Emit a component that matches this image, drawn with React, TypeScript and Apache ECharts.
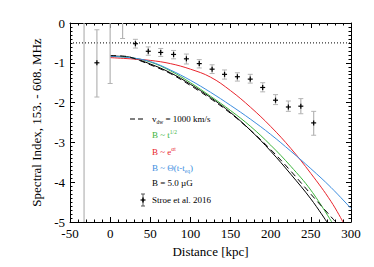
import React, { useEffect, useRef } from "react";
import * as echarts from "echarts";

// Observations (Stroe et al. 2016)
const obsX = [-32.5, -16.5, 0, 15.5, 31.5, 47.5, 63, 79, 95, 111, 127, 142.5, 158.5, 174.5, 190, 206, 222, 237.5, 253.5];
const obsY: (number | null)[] = [null, -1.0, null, null, -0.52, -0.71, -0.74, -0.79, -0.9, -1.02, -1.16, -1.29, -1.35, -1.41, -1.62, -1.94, -2.11, -2.09, -2.51];
const obsLow = [-10, -1.86, -1.52, -0.39, -0.63, -0.81, -0.84, -0.9, -1.03, -1.13, -1.27, -1.41, -1.46, -1.51, -1.73, -2.05, -2.22, -2.28, -2.82];
const obsHigh = [10, -0.17, 0.5, 0.5, -0.41, -0.6, -0.64, -0.69, -0.78, -0.92, -1.05, -1.18, -1.25, -1.29, -1.5, -1.8, -1.96, -1.9, -2.22];

// Model curves
const dashX = [0, 15, 25, 50, 75, 100, 125, 150, 175, 200, 225, 250, 281];
const dashY = [-0.82, -0.83, -0.86, -1.05, -1.27, -1.57, -1.9, -2.27, -2.7, -3.18, -3.72, -4.3, -5.0];
const greenX = [0, 25, 50, 75, 100, 125, 150, 175, 200, 225, 250, 276];
const greenY = [-0.84, -0.87, -0.98, -1.2, -1.5, -1.84, -2.2, -2.6, -3.07, -3.6, -4.2, -5.0];
const redX = [0, 25, 50, 75, 100, 125, 150, 175, 200, 225, 250, 275, 290];
const redY = [-0.87, -0.9, -0.94, -1.02, -1.16, -1.36, -1.7, -2.12, -2.6, -3.15, -3.78, -4.48, -5.0];
const blueX = [0, 25, 50, 75, 100, 125, 150, 175, 200, 225, 250, 275, 300];
const blueY = [-0.84, -0.87, -0.97, -1.18, -1.44, -1.74, -2.07, -2.42, -2.8, -3.22, -3.66, -4.13, -4.66];
const blackX = [0, 15, 25, 50, 75, 100, 125, 150, 175, 200, 225, 250, 270];
const blackY = [-0.83, -0.84, -0.86, -1.03, -1.25, -1.54, -1.87, -2.25, -2.7, -3.22, -3.8, -4.42, -5.0];

const refLineY = -0.5;
const xTicks = { min: -50, max: 300, interval: 50 };
const yTicks = { min: -5, max: 0, interval: 1 };

const FONT = "Liberation Serif";

function pairs(xs: number[], ys: number[]) {
  return xs.map((x, i) => [x, ys[i]]);
}

export default function App() {
  const ref = useRef<HTMLDivElement>(null);
  useEffect(() => {
    document.body.style.margin = "0";
    const chart = echarts.init(ref.current!, null, { renderer: "svg" });
    const axisCommon = {
      axisLine: { show: true, onZero: false, lineStyle: { color: "#000", width: 1 } },
      axisTick: { show: true, inside: true, length: 5, lineStyle: { color: "#000" } },
      minorTick: { show: true, length: 2.5, lineStyle: { color: "#000" } },
      splitLine: { show: false },
    };
    const errData = obsX.map((x, i) => [x, obsLow[i], obsHigh[i], obsY[i] == null ? NaN : obsY[i]]);
    const lineSeries = (name: string, xs: number[], ys: number[], color: string, dashed = false) => ({
      type: "line",
      name,
      data: pairs(xs, ys),
      smooth: 0.4,
      showSymbol: false,
      symbol: "none",
      clip: true,
      lineStyle: { color, width: 1, type: dashed ? [6, 4] : "solid" },
      z: 3,
    });
    const tf = (fill: string) => ({ fontFamily: FONT, fontSize: 9, fill, verticalAlign: "middle", lineHeight: 12 });
    const sf = (fill: string, va: string) => ({ fontFamily: FONT, fontSize: 5.5, fill, verticalAlign: va, lineHeight: 12 });
    chart.setOption({
      animation: false,
      textStyle: { fontFamily: FONT },
      grid: { left: 70, top: 23, width: 281, height: 199, show: false, outerBoundsMode: "none" },
      xAxis: [
        {
          type: "value",
          ...xTicks,
          position: "bottom",
          ...axisCommon,
          minorTick: { ...axisCommon.minorTick, splitNumber: 5 },
          axisLabel: { color: "#000", fontFamily: FONT, fontSize: 13, margin: 5 },
          name: "Distance [kpc]",
          nameLocation: "middle",
          nameGap: 21,
          nameTextStyle: { color: "#000", fontFamily: FONT, fontSize: 13 },
        },
        {
          type: "value",
          ...xTicks,
          position: "top",
          ...axisCommon,
          minorTick: { ...axisCommon.minorTick, splitNumber: 5 },
          axisLabel: { show: false },
        },
      ],
      yAxis: [
        {
          type: "value",
          ...yTicks,
          position: "left",
          ...axisCommon,
          minorTick: { ...axisCommon.minorTick, splitNumber: 10 },
          axisLabel: { color: "#000", fontFamily: FONT, fontSize: 13, margin: 5 },
          name: "Spectral Index, 153. - 608. MHz",
          nameLocation: "middle",
          nameGap: 22,
          nameRotate: 90,
          nameTextStyle: { color: "#000", fontFamily: FONT, fontSize: 13, verticalAlign: "bottom" },
        },
        {
          type: "value",
          ...yTicks,
          position: "right",
          ...axisCommon,
          minorTick: { ...axisCommon.minorTick, splitNumber: 10 },
          axisLabel: { show: false },
        },
      ],
      series: [
        {
          type: "line",
          data: [[xTicks.min, refLineY], [xTicks.max, refLineY]],
          showSymbol: false,
          symbol: "none",
          lineStyle: { color: "#000", width: 1, type: [1, 2] },
          z: 2,
        },
        {
          type: "custom",
          data: errData,
          clip: true,
          encode: { x: 0, y: [1, 2] },
          z: 4,
          renderItem: (params: any, api: any) => {
            const x = api.value(0);
            const lo = api.value(1);
            const hi = api.value(2);
            const c = api.value(3);
            const pLo = api.coord([x, lo]);
            const pHi = api.coord([x, hi]);
            const gray = "#b4b4b4";
            const capW = 2.5;
            const children: any[] = [
              { type: "line", shape: { x1: pLo[0], y1: pLo[1], x2: pHi[0], y2: pHi[1] }, style: { stroke: gray, lineWidth: 1.2 } },
              { type: "line", shape: { x1: pLo[0] - capW, y1: pLo[1], x2: pLo[0] + capW, y2: pLo[1] }, style: { stroke: gray, lineWidth: 1 } },
              { type: "line", shape: { x1: pHi[0] - capW, y1: pHi[1], x2: pHi[0] + capW, y2: pHi[1] }, style: { stroke: gray, lineWidth: 1 } },
            ];
            if (Number.isFinite(c)) {
              const pc = api.coord([x, c]);
              children.push(
                { type: "line", shape: { x1: pc[0] - 2.5, y1: pc[1], x2: pc[0] + 2.5, y2: pc[1] }, style: { stroke: "#000", lineWidth: 1.2 } },
                { type: "line", shape: { x1: pc[0], y1: pc[1] - 2.5, x2: pc[0], y2: pc[1] + 2.5 }, style: { stroke: "#000", lineWidth: 1.2 } }
              );
            }
            return { type: "group", children };
          },
        },
        lineSeries("B = 5.0 µG", blackX, blackY, "#000"),
        lineSeries("B ~ t^1/2", greenX, greenY, "#3cb43c"),
        lineSeries("B ~ e^αt", redX, redY, "#e8242c"),
        lineSeries("B ~ Θ(t-teq)", blueX, blueY, "#3d8ee0"),
        lineSeries("vdw = 1000 km/s", dashX, dashY, "#000", true),
      ],
      graphic: [
        { type: "line", shape: { x1: 130, y1: 119, x2: 146, y2: 119 }, style: { stroke: "#000", lineWidth: 1, lineDash: [5, 3] } },
        {
          type: "text",
          x: 152,
          y: 119,
          style: { text: "{b|v}{s|dw}{b| = 1000 km/s}", verticalAlign: "middle", rich: { b: tf("#000"), s: sf("#000", "bottom") } },
        },
        {
          type: "text",
          x: 152,
          y: 135,
          style: { text: "{b|B ~ t}{s|1/2}", verticalAlign: "middle", rich: { b: tf("#3cb43c"), s: sf("#3cb43c", "top") } },
        },
        {
          type: "text",
          x: 152,
          y: 151.5,
          style: { text: "{b|B ~ e}{s|αt}", verticalAlign: "middle", rich: { b: tf("#e8242c"), s: sf("#e8242c", "top") } },
        },
        {
          type: "text",
          x: 152,
          y: 168,
          style: { text: "{b|B ~ Θ(t-t}{s|eq}{b|)}", verticalAlign: "middle", rich: { b: tf("#3d8ee0"), s: sf("#3d8ee0", "bottom") } },
        },
        {
          type: "text",
          x: 152,
          y: 183,
          style: { text: "B = 5.0 µG", fontFamily: FONT, fontSize: 9, fill: "#000", verticalAlign: "middle" },
        },
        { type: "line", shape: { x1: 143, y1: 194, x2: 143, y2: 206 }, style: { stroke: "#555", lineWidth: 1 } },
        { type: "line", shape: { x1: 141, y1: 194, x2: 145, y2: 194 }, style: { stroke: "#555", lineWidth: 1 } },
        { type: "line", shape: { x1: 141, y1: 206, x2: 145, y2: 206 }, style: { stroke: "#555", lineWidth: 1 } },
        { type: "line", shape: { x1: 140.5, y1: 200, x2: 145.5, y2: 200 }, style: { stroke: "#000", lineWidth: 1.2 } },
        { type: "line", shape: { x1: 143, y1: 197.5, x2: 143, y2: 202.5 }, style: { stroke: "#000", lineWidth: 1.4 } },
        {
          type: "text",
          x: 152,
          y: 200,
          style: { text: "Stroe et al. 2016", fontFamily: FONT, fontSize: 9, fill: "#000", verticalAlign: "middle" },
        },
      ],
    });
    return () => chart.dispose();
  }, []);
  return <div ref={ref} style={{ width: 374, height: 267 }} />;
}
